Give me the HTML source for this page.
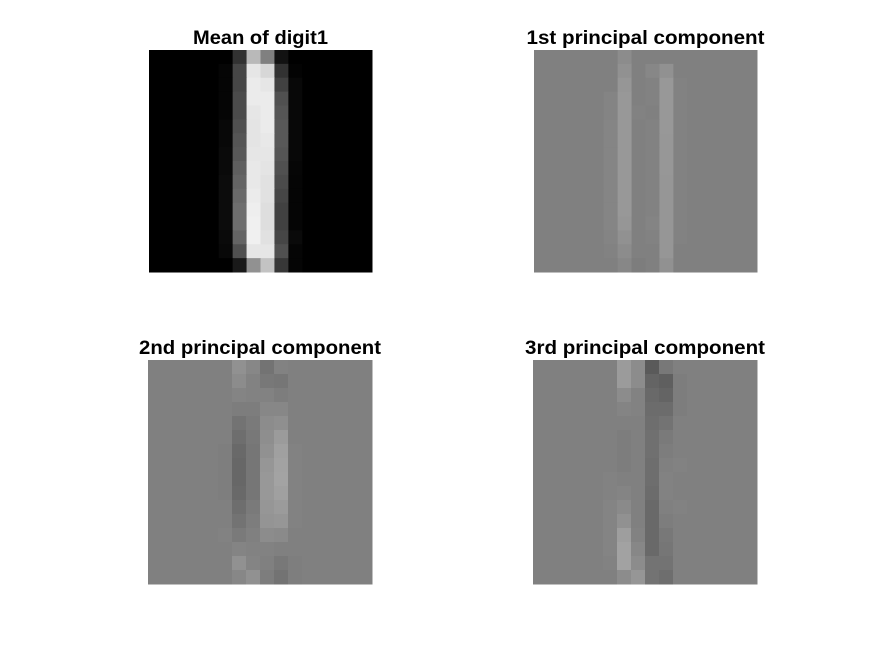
<!DOCTYPE html>
<html><head><meta charset="utf-8"><style>
html,body{margin:0;padding:0;background:#fff;width:875px;height:656px;overflow:hidden}
svg text{font-family:"Liberation Sans",Arial,sans-serif;font-weight:bold;font-size:19px;fill:#000}
</style></head><body>
<svg id="fig" width="875" height="656" xmlns="http://www.w3.org/2000/svg"></svg>
<script>
// Pixel values (0-255) for columns 5..10 of each 16x16 image; other columns = background
const titles = ["Mean of digit1","1st principal component","2nd principal component","3rd principal component"];
const backgrounds = [0,128,128,128];
const meanDigit = [
[0,50,185,128,18,0],[5,70,230,215,50,3],[5,70,235,230,65,8],[5,75,235,235,80,8],
[5,75,230,235,85,8],[8,80,228,235,88,8],[8,85,228,232,88,8],[10,88,230,230,85,8],
[10,95,232,228,80,6],[12,100,232,225,75,5],[12,105,235,225,70,5],[12,110,238,222,65,5],
[12,110,240,222,65,5],[10,100,240,225,70,10],[8,80,230,230,80,5],[0,25,145,195,55,5]];
const pc1 = [
[128,140,128,128,128,128],[128,145,128,135,145,128],[128,150,128,130,152,130],[132,152,128,130,152,130],
[132,152,130,128,152,130],[133,152,128,130,152,130],[133,152,128,130,151,130],[133,152,128,130,151,130],
[133,152,128,130,151,130],[133,152,128,130,150,130],[133,152,128,130,150,130],[133,152,128,130,150,130],
[133,150,128,132,150,130],[132,145,128,130,150,130],[130,140,128,128,150,128],[128,135,125,128,145,128]];
const pc2 = [
[128,145,135,115,130,128],[128,140,130,120,118,128],[128,132,130,130,125,128],[128,125,125,135,135,128],
[128,115,122,140,143,128],[128,110,120,142,155,128],[126,105,118,145,160,130],[126,103,118,150,162,130],
[126,103,118,152,163,130],[126,105,118,152,160,130],[128,110,122,150,155,130],[128,115,125,148,150,130],
[130,122,128,140,138,128],[128,132,130,130,128,128],[128,145,132,128,120,126],[128,135,145,125,115,126]];
const pc3 = [
[128,155,140,90,120,128],[128,155,140,100,95,125],[128,140,130,105,100,125],[128,132,130,108,108,125],
[128,128,128,110,115,128],[128,125,128,112,122,128],[128,125,128,112,125,128],[128,125,128,110,128,130],
[130,128,128,110,130,128],[130,132,128,108,130,128],[132,138,128,105,128,130],[132,145,128,105,125,128],
[132,158,130,105,120,128],[132,162,135,105,118,128],[130,162,140,115,115,128],[128,140,150,115,110,128]];
const images = [meanDigit,pc1,pc2,pc3];
const firstCol = 5, N = 16;

const NS="http://www.w3.org/2000/svg";
const svg=document.getElementById('fig');
const panels=[{x:149,y:50,w:223,h:222,tw:135},{x:534,y:50,w:223,h:222,tw:238},{x:148,y:360,w:224,h:224,tw:242},{x:533,y:360,w:224,h:224,tw:240}];
const names=['mean-digit1','pc1','pc2','pc3'];
panels.forEach((p,k)=>{
  const g=document.createElementNS(NS,'g');
  
  
  const cw=p.w/N, ch=p.h/N;
  const bg=backgrounds[k];
  for(let r=0;r<N;r++){
    for(let c=0;c<N;c++){
      let v=bg;
      if(c>=firstCol && c<firstCol+images[k][r].length) v=images[k][r][c-firstCol];
      const rect=document.createElementNS(NS,'rect');
      rect.setAttribute('x',(p.x+c*cw).toFixed(2));
      rect.setAttribute('y',(p.y+r*ch).toFixed(2));
      rect.setAttribute('width',(cw+0.5).toFixed(2));
      rect.setAttribute('height',(ch+0.5).toFixed(2));
      rect.setAttribute('fill',`rgb(${v},${v},${v})`);
      
      
      g.appendChild(rect);
    }
  }
  svg.appendChild(g);
  const t=document.createElementNS(NS,'text');
  t.setAttribute('x',p.x+p.w/2);
  t.setAttribute('y',p.y-6);
  t.setAttribute('text-anchor','middle');
  t.setAttribute('textLength',p.tw);
  t.setAttribute('lengthAdjust','spacingAndGlyphs');
  t.textContent=titles[k];
  
  
  svg.appendChild(t);
});
</script>
</body></html>
